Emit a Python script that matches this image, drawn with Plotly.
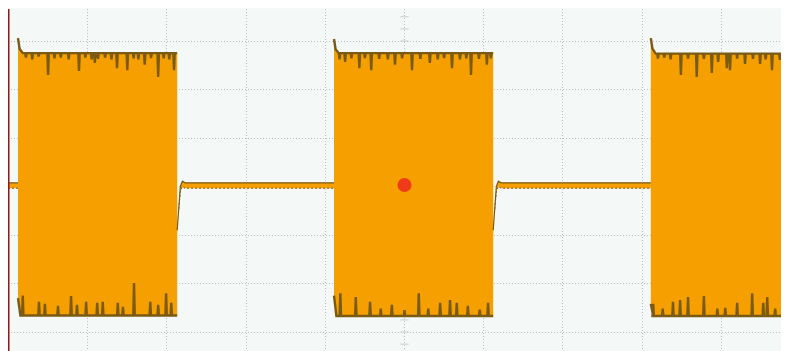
import plotly.graph_objects as go

# ---------------- data (oscilloscope units: divisions) ----------------
BURST_START = [0.12, 4.11, 8.11]
BURST_END = [2.13, 6.12, 10.12]
TOP_LEVEL = [2.75, 2.75, 2.74]
BOTTOM_LEVEL = [-2.66, -2.67, -2.67]
ONSET_PEAK = [3.06, 3.04, 3.06]
ONSET_SETTLE = [2.84, 2.83, 2.85]
BOTTOM_ONSET = [-2.30, -2.25, -2.42]

TOP_DIP_T = [
    [0.22, 0.30, 0.38, 0.50, 0.58, 0.66, 0.76, 0.89, 0.97, 1.05, 1.09, 1.13, 1.22, 1.30, 1.37,
     1.50, 1.58, 1.64, 1.72, 1.80, 1.89, 1.96, 2.03, 2.09],
    [4.18, 4.25, 4.33, 4.43, 4.50, 4.58, 4.68, 4.79, 4.88, 4.97, 5.095, 5.20, 5.32, 5.42, 5.50,
     5.60, 5.70, 5.78, 5.84, 5.94, 6.04, 6.09],
    [8.20, 8.28, 8.36, 8.49, 8.58, 8.69, 8.78, 8.88, 8.96, 9.07, 9.11, 9.20, 9.30, 9.40, 9.49,
     9.56, 9.64, 9.74, 9.82],
]
TOP_DIP_V = [
    [2.66, 2.62, 2.68, 2.30, 2.64, 2.66, 2.62, 2.38, 2.66, 2.62, 2.55, 2.63, 2.66, 2.62, 2.44,
     2.40, 2.64, 2.62, 2.51, 2.65, 2.26, 2.64, 2.62, 2.40],
    [2.62, 2.57, 2.64, 2.44, 2.65, 2.40, 2.63, 2.62, 2.51, 2.64, 2.40, 2.63, 2.55, 2.62, 2.65,
     2.44, 2.62, 2.64, 2.30, 2.63, 2.51, 2.64],
    [2.64, 2.66, 2.62, 2.30, 2.64, 2.26, 2.63, 2.34, 2.57, 2.44, 2.40, 2.64, 2.53, 2.63, 2.53,
     2.62, 2.40, 2.61, 2.64],
]
BOT_SPIKE_T = [
    [0.18, 0.385, 0.46, 0.625, 0.79, 0.865, 0.98, 1.12, 1.19, 1.38, 1.445, 1.585, 1.79, 1.89,
     1.99, 2.055],
    [4.19, 4.385, 4.565, 4.70, 4.84, 5.00, 5.18, 5.30, 5.45, 5.575, 5.66, 5.80, 5.95, 6.055],
    [8.14, 8.26, 8.39, 8.48, 8.58, 8.78, 8.95, 9.05, 9.20, 9.39, 9.53, 9.58, 9.68, 9.78],
]
BOT_SPIKE_V = [
    [-2.25, -2.38, -2.42, -2.46, -2.26, -2.44, -2.38, -2.40, -2.38, -2.40, -2.48, -1.99, -2.38,
     -2.44, -2.20, -2.40],
    [-2.20, -2.28, -2.38, -2.52, -2.44, -2.55, -2.20, -2.52, -2.40, -2.34, -2.40, -2.46, -2.54,
     -2.40],
    [-2.42, -2.52, -2.38, -2.34, -2.28, -2.26, -2.52, -2.50, -2.40, -2.20, -2.40, -2.28, -2.52,
     -1.95],
]

BASELINE_TOP = 0.075
BASELINE_BOTTOM = -0.035
TRANSIENT_DT = [0.0, 0.02, 0.04, 0.065, 0.10]
TRANSIENT_V = [-0.90, -0.35, 0.00, 0.11, 0.075]

TRIGGER_T = [5.0]
TRIGGER_V = [0.03]

# ---------------- styling / geometry ----------------
WIN_W, WIN_H = 789, 351
BODY_MARGIN = 8                     # default page margin around the plot div
PLOT_LEFT, PLOT_TOP = 8, 9          # screen px where the graticule area begins
PX_PER_XDIV, PX_PER_YDIV = 79.2, 48.5
X0_PX, Y0_PX = 8.5, 186.5           # screen pixel of (0 div, 0 div)
ORANGE = "#f5a000"
EDGE = "#7b5a14"
GRID = "#b9c1c1"
BG = "#f4f8f7"

W, H = WIN_W - 2 * BODY_MARGIN, WIN_H - BODY_MARGIN
PLOT_RIGHT, PLOT_BOTTOM = BODY_MARGIN + W, BODY_MARGIN + H
ML, MT = PLOT_LEFT - BODY_MARGIN, PLOT_TOP - BODY_MARGIN

x_range = [(PLOT_LEFT - X0_PX) / PX_PER_XDIV, (PLOT_RIGHT - X0_PX) / PX_PER_XDIV]
y_range = [(Y0_PX - PLOT_BOTTOM) / PX_PER_YDIV, (Y0_PX - PLOT_TOP) / PX_PER_YDIV]

fig = go.Figure()
SPIKE_HW = 0.009


def envelope(start, end, first_pts, level, dip_t, dip_v):
    ts, vs = [p[0] for p in first_pts], [p[1] for p in first_pts]
    for t, v in zip(dip_t, dip_v):
        ts += [t - SPIKE_HW, t, t + SPIKE_HW]
        vs += [level, v, level]
    ts.append(end)
    vs.append(level)
    return ts, vs


# centre graticule minor ticks (vertical centre line)
minor_y = [round(-3.25 + 0.25 * k, 3) for k in range(30) if -3.4 < -3.25 + 0.25 * k < 3.7]
fig.add_trace(go.Scatter(x=[5.0] * len(minor_y), y=minor_y, mode="markers",
                         marker=dict(symbol="line-ew", size=6, line=dict(color="#c9cfcf", width=1)),
                         hoverinfo="skip"))

for i in range(len(BURST_START)):
    s, e = BURST_START[i], BURST_END[i]
    tt, tv = envelope(s, e, [(s, ONSET_PEAK[i]), (s + 0.02, ONSET_SETTLE[i]), (s + 0.06, TOP_LEVEL[i])],
                      TOP_LEVEL[i], TOP_DIP_T[i], TOP_DIP_V[i])
    bt, bv = envelope(s, e, [(s, BOTTOM_ONSET[i]), (s + 0.03, BOTTOM_LEVEL[i])],
                      BOTTOM_LEVEL[i], BOT_SPIKE_T[i], BOT_SPIKE_V[i])
    fig.add_trace(go.Scatter(x=tt + bt[::-1], y=tv + bv[::-1], fill="toself", fillcolor=ORANGE,
                             line=dict(width=0), mode="lines", hoverinfo="skip"))
    for xs, ys in ((tt, tv), (bt, bv)):
        fig.add_trace(go.Scatter(x=xs, y=ys, mode="lines", line=dict(color=EDGE, width=2.4),
                                 hoverinfo="skip"))

# baseline segments (pre-burst and between bursts, with trailing transient)
segments = [(x_range[0], BURST_START[0], False)]
for i in range(len(BURST_START) - 1):
    segments.append((BURST_END[i], BURST_START[i + 1], True))
for a, b, trans in segments:
    if trans:
        xs = [a + d for d in TRANSIENT_DT]
        ys_top = list(TRANSIENT_V)
        ys_bot = [v - (BASELINE_TOP - BASELINE_BOTTOM) for v in TRANSIENT_V]
    else:
        xs, ys_top, ys_bot = [a], [BASELINE_TOP], [BASELINE_BOTTOM]
    xs.append(b)
    ys_top.append(BASELINE_TOP)
    ys_bot.append(BASELINE_BOTTOM)
    fig.add_trace(go.Scatter(x=xs + xs[::-1], y=ys_top + ys_bot[::-1], fill="toself",
                             fillcolor=ORANGE, line=dict(width=0), mode="lines", hoverinfo="skip"))
    fig.add_trace(go.Scatter(x=xs, y=ys_top, mode="lines", line=dict(color=EDGE, width=1.2),
                             hoverinfo="skip"))
    fig.add_trace(go.Scatter(x=xs[1:] if trans else xs, y=ys_bot[1:] if trans else ys_bot,
                             mode="lines", line=dict(color=EDGE, width=1, dash="2px,2px"),
                             hoverinfo="skip"))

# trigger marker
fig.add_trace(go.Scatter(x=TRIGGER_T, y=TRIGGER_V, mode="markers",
                         marker=dict(symbol="circle", size=14, color="#ef3b1a", line=dict(width=0)),
                         hoverinfo="skip"))

# left graticule edge (dark red)
fig.add_shape(type="line", xref="x", yref="paper", x0=0, x1=0, y0=0, y1=1,
              line=dict(color="#8b1a1a", width=2))

fig.update_layout(
    width=W, height=H, margin=dict(l=ML, r=0, t=MT, b=0),
    paper_bgcolor="#f7faf9", plot_bgcolor=BG, showlegend=False,
)
fig.update_xaxes(range=x_range, tick0=0, dtick=1, showgrid=True, gridcolor=GRID, gridwidth=1,
                 griddash="1px,2px", zeroline=False, showticklabels=False, ticks="", showline=False,
                 fixedrange=True)
fig.update_yaxes(range=y_range, tick0=0, dtick=1, showgrid=True, gridcolor=GRID, gridwidth=1,
                 griddash="1px,2px", zeroline=False, showticklabels=False, ticks="",
                 showline=False, fixedrange=True)

fig.write_html("out.html", config={"displayModeBar": False})
